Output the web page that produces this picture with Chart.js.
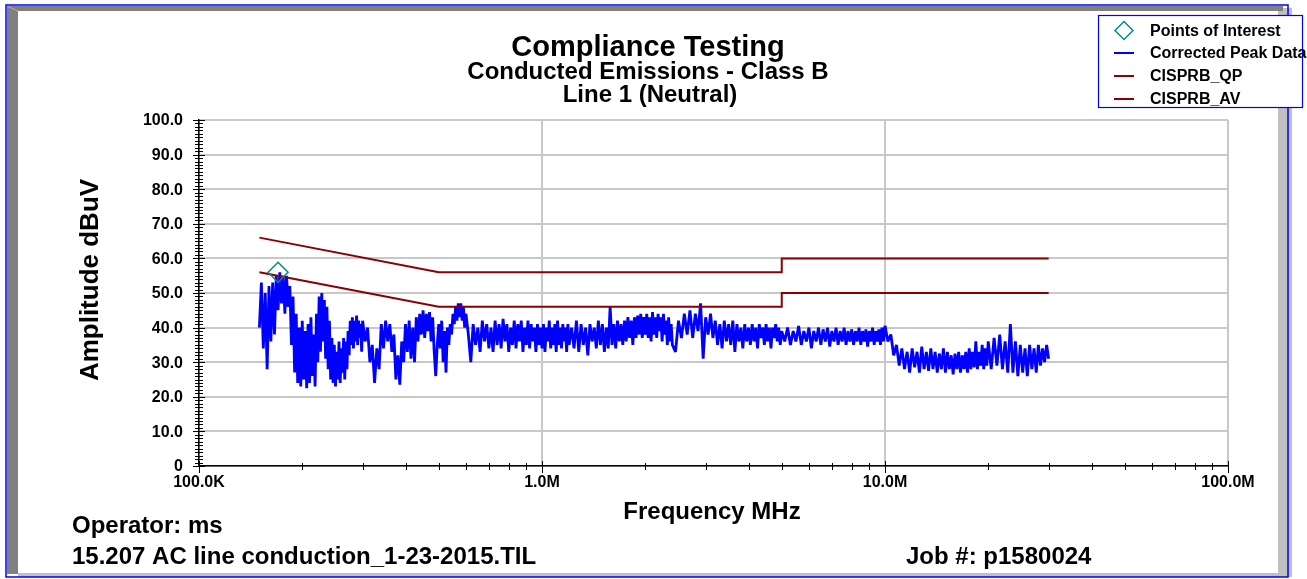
<!DOCTYPE html>
<html>
<head>
<meta charset="utf-8">
<script src="https://cdn.jsdelivr.net/npm/chart.js@4.4.1/dist/chart.umd.min.js"></script>
<style>
  html, body { margin: 0; padding: 0; background: #fff; }
  canvas { display: block; }
</style>
</head>
<body>
<canvas id="chart" width="1307" height="579"></canvas>
<script>
// corrected peak sweep, MHz / dBuV
const peakFreq = [
  0.150, 0.152, 0.154, 0.156, 0.158, 0.160, 0.162, 0.164, 0.166, 0.168, 0.170, 0.172, 0.174, 0.176, 0.178, 0.180, 0.182, 0.184, 0.186, 0.188,
  0.190, 0.192, 0.194, 0.196, 0.198, 0.200, 0.202, 0.204, 0.206, 0.208, 0.210, 0.212, 0.214, 0.216, 0.218, 0.220, 0.222, 0.224, 0.226, 0.228,
  0.230, 0.232, 0.234, 0.236, 0.238, 0.240, 0.242, 0.244, 0.246, 0.248, 0.250, 0.252, 0.254, 0.256, 0.258, 0.260, 0.262, 0.264, 0.266, 0.268,
  0.270, 0.272, 0.274, 0.276, 0.278, 0.280, 0.282, 0.284, 0.286, 0.288, 0.290, 0.292, 0.294, 0.296, 0.298, 0.300,
  0.305, 0.310, 0.315, 0.320, 0.325, 0.330, 0.335, 0.340, 0.345, 0.350, 0.355, 0.360, 0.365, 0.370, 0.375, 0.380, 0.385, 0.390, 0.395, 0.400,
  0.405, 0.410, 0.415, 0.420, 0.425, 0.430, 0.435, 0.440, 0.445, 0.450, 0.455, 0.460, 0.465, 0.470, 0.475, 0.480, 0.485, 0.490, 0.495, 0.500,
  0.505, 0.510, 0.515, 0.520, 0.525, 0.530, 0.535, 0.540, 0.545, 0.550, 0.555, 0.560, 0.565, 0.570, 0.575, 0.580, 0.585, 0.590, 0.595, 0.600,
  0.61, 0.62, 0.63, 0.64, 0.65, 0.66, 0.67, 0.68, 0.69, 0.70, 0.71, 0.72, 0.73, 0.74, 0.75, 0.76, 0.77, 0.78, 0.79, 0.80,
  0.81, 0.82, 0.83, 0.84, 0.85, 0.86, 0.87, 0.88, 0.89, 0.90, 0.91, 0.92, 0.93, 0.94, 0.95, 0.96, 0.97, 0.98, 0.99, 1.00,
  1.01, 1.02, 1.03, 1.04, 1.05, 1.06, 1.07, 1.08, 1.09, 1.10, 1.11, 1.12, 1.13, 1.14, 1.15, 1.16, 1.17, 1.18, 1.19, 1.20,
  1.22, 1.24, 1.26, 1.28, 1.30, 1.32, 1.34, 1.36, 1.38, 1.40, 1.42, 1.44, 1.46, 1.48, 1.50, 1.52, 1.54, 1.56, 1.58, 1.60,
  1.62, 1.64, 1.66, 1.68, 1.70, 1.72, 1.74, 1.76, 1.78, 1.80, 1.82, 1.84, 1.86, 1.88, 1.90, 1.92, 1.94, 1.96, 1.98, 2.00,
  2.02, 2.04, 2.06, 2.08, 2.10, 2.12, 2.14, 2.16, 2.18, 2.20, 2.22, 2.24, 2.26, 2.28, 2.30, 2.32, 2.34, 2.36, 2.38, 2.40,
  2.45, 2.50, 2.55, 2.60, 2.65, 2.70, 2.75, 2.80, 2.85, 2.90, 2.95, 3.00, 3.05, 3.10, 3.15, 3.20, 3.25, 3.30, 3.35, 3.40,
  3.45, 3.50, 3.55, 3.60, 3.65, 3.70, 3.75, 3.80, 3.85, 3.90, 3.95, 4.00, 4.05, 4.10, 4.15, 4.20, 4.25, 4.30, 4.35, 4.40,
  4.45, 4.50, 4.55, 4.60, 4.65, 4.70, 4.75, 4.80, 4.85, 4.90, 4.95, 5.00,
  5.1, 5.2, 5.3, 5.4, 5.5, 5.6, 5.7, 5.8, 5.9, 6.0, 6.1, 6.2, 6.3, 6.4, 6.5, 6.6, 6.7, 6.8, 6.9, 7.0,
  7.1, 7.2, 7.3, 7.4, 7.5, 7.6, 7.7, 7.8, 7.9, 8.0, 8.1, 8.2, 8.3, 8.4, 8.5, 8.6, 8.7, 8.8, 8.9, 9.0,
  9.1, 9.2, 9.3, 9.4, 9.5, 9.6, 9.7, 9.8, 9.9, 10.0,
  10.2, 10.4, 10.6, 10.8, 11.0, 11.2, 11.4, 11.6, 11.8, 12.0, 12.2, 12.4, 12.6, 12.8, 13.0, 13.2, 13.4, 13.6, 13.8, 14.0,
  14.2, 14.4, 14.6, 14.8, 15.0, 15.2, 15.4, 15.6, 15.8, 16.0, 16.2, 16.4, 16.6, 16.8, 17.0, 17.2, 17.4, 17.6, 17.8, 18.0,
  18.2, 18.4, 18.6, 18.8, 19.0, 19.2, 19.4, 19.6, 19.8, 20.0,
  20.4, 20.8, 21.2, 21.6, 22.0, 22.4, 22.8, 23.2, 23.6, 24.0, 24.4, 24.8, 25.2, 25.6, 26.0, 26.4, 26.8, 27.2, 27.6, 28.0,
  28.4, 28.8, 29.2, 29.6, 30.0
];
const peakLevel = [
  40, 53, 34, 50, 28, 52, 36, 53, 38, 55, 45, 56, 47, 55, 44, 55, 46, 52, 35, 49,
  27, 44, 24, 40, 23, 42, 25, 39, 22.5, 41, 24, 43, 26, 38, 23, 44, 30, 49, 33, 50,
  36, 48, 31, 46, 28, 42, 25, 37, 24, 35, 23, 33, 25, 36, 24, 34, 27, 37, 25, 36,
  28, 39, 32, 42, 35, 43, 34, 42, 36, 43.5, 35, 42, 37, 41, 33, 42,
  36, 40, 30, 35, 24, 34, 28, 41, 34, 42, 36, 41, 33, 38, 25, 32, 23.5, 36, 30, 41,
  33, 42, 31, 40, 30, 43, 36, 44, 38, 45, 37, 44, 39, 44.5, 36, 43, 33, 26, 35, 41,
  34, 42, 30, 39, 27, 40, 35, 41, 38, 44, 41, 46, 42, 47, 43, 47, 42, 46, 40, 44,
  38, 30, 41, 35, 40, 33, 42, 36, 41, 34, 40, 33, 42, 35, 41, 34, 42.5, 36, 41, 33,
  40, 35, 42, 34, 41, 36, 42, 33, 40, 35, 42, 34, 41, 36, 40, 33, 41, 35, 40, 34,
  41, 33, 40, 36, 42, 34, 40, 35, 41, 33, 42, 35, 40, 34, 41, 36, 40, 33, 41, 35,
  40, 34, 42, 33, 41, 35, 40, 32, 41, 36, 40, 34, 42, 35, 41, 33, 40, 34, 46, 35,
  41, 34, 42, 36, 41, 35, 42, 36, 43, 37, 42, 35, 43, 37, 43.5, 38, 44, 37, 43, 38,
  44, 37, 43, 36, 44.5, 38, 43, 37, 44, 39, 43, 36, 44, 38, 42, 35, 43, 36, 41, 35,
  33, 42, 37, 44, 38, 45, 37, 44, 39, 47, 31, 43, 38, 44, 37, 42, 35, 41, 34, 42,
  36, 41, 35, 42, 33, 41, 36, 40, 34, 41, 36, 40, 35, 41, 36, 40, 34, 41, 37, 40,
  35, 41, 36, 40, 34, 40, 37, 41, 36, 40, 35, 39,
  36, 40, 35, 39, 36, 40.5, 35, 39, 36, 40, 34, 39, 36, 40, 35, 39.5, 36, 40, 34.5, 39,
  36, 40, 35, 39, 36, 40, 35, 39, 36, 39.5, 35, 39, 36, 40, 35, 39, 36, 39.5, 34.5, 39,
  36, 40, 35, 39, 36, 39.5, 35, 40, 36, 40.5,
  36, 38, 32, 35, 29, 34, 28, 33, 27, 34, 28.5, 33, 27, 34.5, 28, 33, 27.5, 34, 28, 33,
  27, 32.5, 28, 34, 27, 33, 28, 32, 26.5, 32.5, 28, 33, 27, 32, 28, 33, 27, 34, 28, 33,
  28.5, 36, 28, 33, 29, 35, 28, 34, 29, 36,
  28, 37, 29, 38, 28, 36, 27, 41, 27, 36, 26, 35, 27, 34, 26, 35, 28, 34, 27, 35,
  29, 34, 30, 35, 31
];

// CISPR 22 class B limits
const qpFreq = [0.15, 0.5, 5, 5, 30];
const qpLevel = [66, 56, 56, 60, 60];
const avFreq = [0.15, 0.5, 5, 5, 30];
const avLevel = [56, 46, 46, 50, 50];

const poiFreq = [0.170];
const poiLevel = [56];

const yTicks = [0, 10, 20, 30, 40, 50, 60, 70, 80, 90, 100];
const yTickLabels = ['0', '10.0', '20.0', '30.0', '40.0', '50.0', '60.0', '70.0', '80.0', '90.0', '100.0'];
const xTicks = [0.1, 1, 10, 100];
const xTickLabels = ['100.0K', '1.0M', '10.0M', '100.0M'];

const legendLabels = ['Points of Interest', 'Corrected Peak Data', 'CISPRB_QP', 'CISPRB_AV'];

const BLUE = '#0000ff';
const LIMIT = '#8b0000';
const TEAL = '#008b8b';
const GRID = '#c8c8c8';
const FONT = '"Liberation Sans", Arial, sans-serif';

const pts = (xs, ys) => xs.map((x, i) => ({ x: x, y: ys[i] }));

function txt(ctx, s, x, y, size, align, base) {
  ctx.font = 'bold ' + size + 'px ' + FONT;
  ctx.textAlign = align || 'left';
  ctx.textBaseline = base || 'alphabetic';
  ctx.fillStyle = '#000';
  ctx.fillText(s, x, y);
}

const framePlugin = {
  id: 'frame',
  beforeDraw(chart) {
    const ctx = chart.ctx;
    ctx.save();
    ctx.fillStyle = '#fff';
    ctx.fillRect(0, 0, chart.width, chart.height);
    // bevel bars
    ctx.fillStyle = '#c0c0c0';
    ctx.fillRect(1278, 8, 14, 569);
    ctx.fillRect(18, 573, 1270, 4);
    ctx.fillStyle = '#808080';
    ctx.fillRect(7, 6, 1276, 5);
    ctx.fillRect(7, 6, 11, 568);
    ctx.strokeStyle = '#b0b0b0';
    ctx.lineWidth = 1;
    ctx.beginPath();
    ctx.moveTo(7, 6);
    ctx.lineTo(18, 11);
    ctx.stroke();
    ctx.strokeStyle = BLUE;
    ctx.lineWidth = 1.5;
    ctx.strokeRect(6, 5, 1282, 572);
    ctx.restore();
  },
  afterDraw(chart) {
    const ctx = chart.ctx;
    const xs = chart.scales.x, ys = chart.scales.y;
    const area = chart.chartArea;
    ctx.save();

    // tick marks crossing the axes
    ctx.strokeStyle = '#000';
    ctx.lineWidth = 1;
    ctx.beginPath();
    for (let v = 0; v <= 100; v++) {
      const y = Math.round(ys.getPixelForValue(v)) + 0.5;
      const major = v % 10 === 0;
      ctx.moveTo(area.left - (major ? 6 : 4), y);
      ctx.lineTo(area.left + (major ? 6 : 4), y);
    }
    [0.1, 1, 10].forEach(d => {
      for (let m = 1; m <= 10; m++) {
        const x = Math.round(xs.getPixelForValue(d * m)) + 0.5;
        const major = m === 1 || m === 10;
        ctx.moveTo(x, area.bottom - (major ? 5 : 3));
        ctx.lineTo(x, area.bottom + (major ? 7 : 4));
      }
    });
    ctx.stroke();

    // tick labels
    yTicks.forEach((v, i) => txt(ctx, yTickLabels[i], 183, ys.getPixelForValue(v) + 1, 16, 'right', 'middle'));
    xTicks.forEach((v, i) => txt(ctx, xTickLabels[i], xs.getPixelForValue(v), 487, 16, 'center'));

    // titles
    txt(ctx, 'Compliance Testing', 648, 56, 29, 'center');
    txt(ctx, 'Conducted Emissions - Class B', 648, 79, 24, 'center');
    txt(ctx, 'Line 1 (Neutral)', 650, 102, 24, 'center');
    txt(ctx, 'Frequency MHz', 712, 519, 24, 'center');
    ctx.save();
    ctx.translate(98, 280);
    ctx.rotate(-Math.PI / 2);
    txt(ctx, 'Amplitude dBuV', 0, 0, 26, 'center');
    ctx.restore();

    txt(ctx, 'Operator: ms', 72, 533, 24);
    txt(ctx, '15.207 AC line conduction_1-23-2015.TIL', 72, 564, 24);
    txt(ctx, 'Job #: p1580024', 906, 564, 24);

    // legend box
    ctx.fillStyle = '#fff';
    ctx.fillRect(1099, 16, 203, 91);
    ctx.strokeStyle = BLUE;
    ctx.lineWidth = 1.2;
    ctx.strokeRect(1098.5, 15.5, 204, 92);
    const rows = [30.5, 53, 76, 99];
    ctx.strokeStyle = TEAL;
    ctx.lineWidth = 1.5;
    ctx.beginPath();
    ctx.moveTo(1124, rows[0] - 9);
    ctx.lineTo(1133, rows[0]);
    ctx.lineTo(1124, rows[0] + 9);
    ctx.lineTo(1115, rows[0]);
    ctx.closePath();
    ctx.stroke();
    [BLUE, LIMIT, LIMIT].forEach((c, i) => {
      ctx.strokeStyle = c;
      ctx.lineWidth = 2;
      ctx.beginPath();
      ctx.moveTo(1114, rows[i + 1]);
      ctx.lineTo(1134, rows[i + 1]);
      ctx.stroke();
    });
    legendLabels.forEach((s, i) => txt(ctx, s, 1150, rows[i] + 1, 16, 'left', 'middle'));
    ctx.restore();
  }
};

new Chart(document.getElementById('chart'), {
  type: 'line',
  data: {
    datasets: [
      {
        label: legendLabels[0],
        data: pts(poiFreq, poiLevel),
        showLine: false,
        pointStyle: 'rectRot',
        pointRadius: 10,
        pointBorderWidth: 1.5,
        pointBorderColor: TEAL,
        pointBackgroundColor: 'rgba(0,0,0,0)'
      },
      {
        label: legendLabels[2],
        data: pts(qpFreq, qpLevel),
        borderColor: LIMIT,
        borderWidth: 2,
        pointRadius: 0
      },
      {
        label: legendLabels[3],
        data: pts(avFreq, avLevel),
        borderColor: LIMIT,
        borderWidth: 2,
        pointRadius: 0
      },
      {
        label: legendLabels[1],
        data: pts(peakFreq, peakLevel),
        borderColor: BLUE,
        borderWidth: 2.8,
        borderJoinStyle: 'bevel',
        pointRadius: 0,
        tension: 0
      }
    ]
  },
  options: {
    responsive: false,
    animation: false,
    layout: { padding: { left: 0, top: 120, right: 79, bottom: 0 } },
    plugins: { legend: { display: false }, tooltip: { enabled: false } },
    scales: {
      x: {
        type: 'logarithmic',
        min: 0.1,
        max: 100,
        afterBuildTicks: s => { s.ticks = xTicks.map(v => ({ value: v })); },
        afterFit: s => { s.height = 113; },
        ticks: { display: false },
        grid: { color: GRID, lineWidth: 2, drawTicks: false },
        border: { color: '#000', width: 1.5 }
      },
      y: {
        min: 0,
        max: 100,
        afterBuildTicks: s => { s.ticks = yTicks.map(v => ({ value: v })); },
        afterFit: s => { s.width = 199; },
        ticks: { display: false },
        grid: { color: GRID, lineWidth: 2, drawTicks: false },
        border: { color: '#000', width: 1.5 }
      }
    }
  },
  plugins: [framePlugin]
});
</script>
</body>
</html>
